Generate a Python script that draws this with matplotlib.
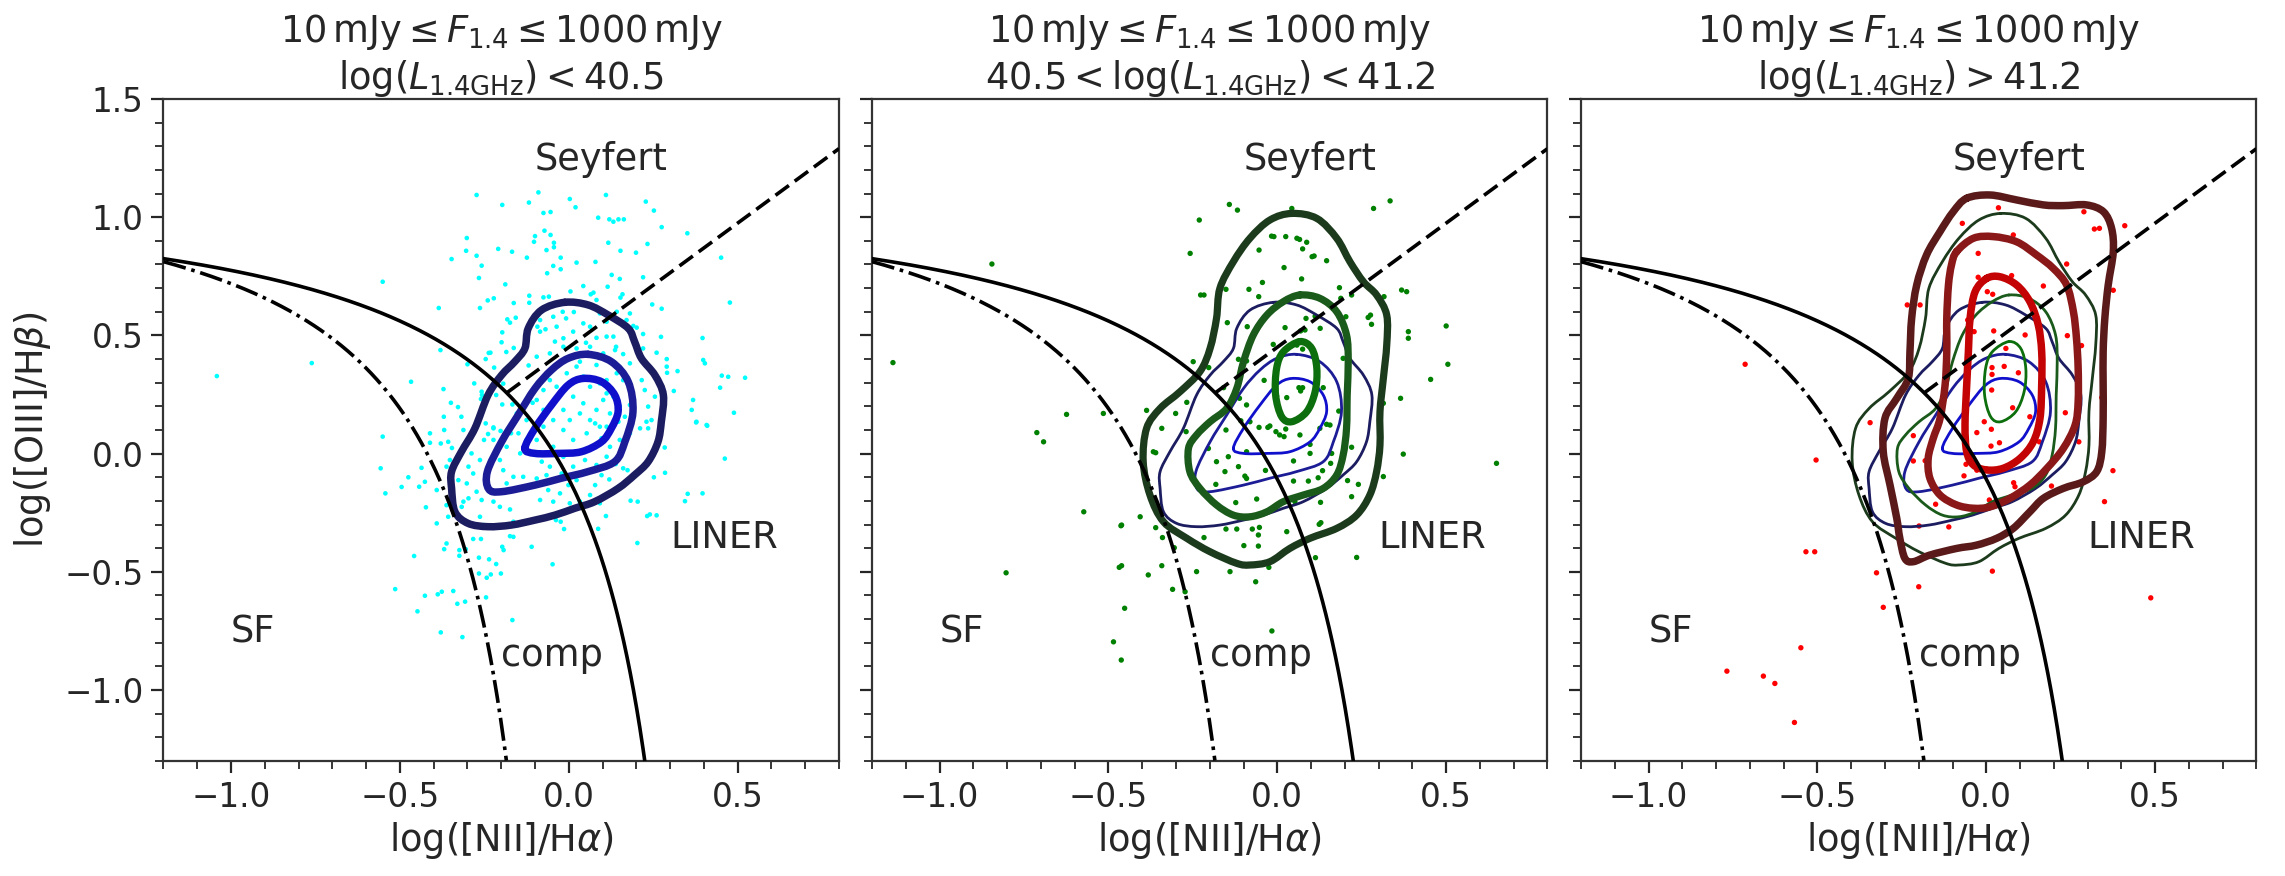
import numpy as np
import matplotlib
matplotlib.use("Agg")
import matplotlib.pyplot as plt
from matplotlib.path import Path
from matplotlib.patches import PathPatch

# ---------------- data ----------------
titles = [
    r"$10\,\mathrm{mJy} \leq F_{1.4} \leq 1000\,\mathrm{mJy}$" + "\n" + r"$\log(L_{1.4\mathrm{GHz}}) < 40.5$",
    r"$10\,\mathrm{mJy} \leq F_{1.4} \leq 1000\,\mathrm{mJy}$" + "\n" + r"$40.5 < \log(L_{1.4\mathrm{GHz}}) < 41.2$",
    r"$10\,\mathrm{mJy} \leq F_{1.4} \leq 1000\,\mathrm{mJy}$" + "\n" + r"$\log(L_{1.4\mathrm{GHz}}) > 41.2$",
]
region_labels = ["Seyfert", "SF", "comp", "LINER"]
region_x = [-0.1, -1.0, -0.2, 0.3]
region_y = [1.2, -0.8, -0.9, -0.4]

x_ticks = [-1.0, -0.5, 0.0, 0.5]
y_ticks = [-1.0, -0.5, 0.0, 0.5, 1.0, 1.5]

# cyan sample (log L < 40.5)
cyan_x = [-0.273,-0.197,-0.118,-0.302,-0.304,-0.273,-0.209,-0.168,-0.124,-0.347,-0.258,-0.266,-0.551,-0.188,-0.117,-0.117,-0.163,-0.240,-0.222,-0.263,-0.385,-0.182,-0.174,-0.157,-0.197,-0.199,-0.163,-0.237,-0.232,-0.185,-0.246,-0.300,-0.380,-0.761,-0.467,-0.221,-0.192,-0.119,-0.280,-0.194,-0.258,-0.257,-0.371,-0.349,-0.328,-0.370,-0.318,-0.197,-0.167,-0.107,-0.125,-0.154,-0.223,-0.246,-0.260,-0.215,-1.042,
          -0.090,0.003,0.110,0.020,-0.075,-0.054,0.228,0.252,0.087,0.120,0.132,0.147,0.163,0.275,0.351,-0.072,-0.054,-0.100,-0.103,-0.044,-0.044,-0.066,0.117,0.233,0.153,0.199,-0.024,0.023,0.079,0.451,-0.046,-0.024,-0.064,0.127,0.151,0.220,0.043,0.115,0.005,-0.075,-0.059,0.073,0.065,0.159,0.153,0.247,0.275,0.477,-0.018,0.015,-0.008,0.043,-0.093,-0.069,-0.036,-0.085,0.112,0.191,0.201,0.171,0.220,0.273,0.396,-0.016,-0.041,0.082,0.051,0.112,0.140,0.137,0.161,0.260,0.290,0.398,0.403,0.291,0.322,0.453,0.472,0.522,0.448,0.311,0.290,0.220,0.181,0.216,0.225,0.255,0.235,0.368,0.364,0.489,0.378,0.408,0.245,0.211,0.166,0.181,
          0.023,0.043,-0.006,0.063,0.092,0.112,0.013,0.043,0.082,0.102,0.132,0.033,0.063,0.003,0.122,0.092,-0.016,-0.036,-0.056,-0.075,-0.095,-0.075,-0.046,0.112,0.142,0.033,0.082,0.132,0.161,0.151,0.181,-0.095,-0.056,-0.016,0.023,0.063,0.102,0.132,0.013,0.063,0.092,-0.046,-0.085,0.063,0.082,0.142,0.023,0.181,
          -0.551,-0.557,-0.543,-0.475,-0.495,-0.443,-0.426,-0.423,-0.391,-0.369,-0.458,-0.514,-0.426,-0.388,-0.376,-0.342,-0.330,-0.307,-0.245,-0.448,-0.379,-0.315,-0.324,-0.305,-0.324,-0.266,-0.266,-0.236,-0.215,-0.231,-0.243,-0.201,-0.197,-0.193,-0.174,-0.164,-0.167,-0.260,-0.411,-0.369,-0.411,-0.379,-0.357,-0.346,-0.312,-0.251,-0.223,-0.239,-0.202,-0.171,-0.149,-0.436,-0.362,-0.352,-0.391,-0.362,-0.327,-0.302,-0.283,-0.273,-0.258,-0.312,-0.317,-0.297,-0.357,-0.263,-0.223,-0.204,-0.174,-0.184,-0.194,-0.164,-0.135,-0.144,-0.184,-0.204,-0.223,-0.263,-0.297,-0.288,-0.125,-0.253,-0.283,-0.362,-0.164,-0.140,
          0.377,0.410,0.462,0.284,0.285,0.252,0.352,0.396,0.344,0.183,0.204,0.232,0.260,0.240,0.110,0.087,-0.038,-0.024,-0.014,0.203,-0.048,-0.110,0.174,0.161,0.139,0.157,0.122,0.151,0.181,0.235,0.230,0.097,0.078,0.112,0.097,0.120,0.078,0.063,0.092,0.033,0.003,-0.046,-0.085,-0.061,-0.026,-0.001,0.023,-0.021,-0.066,-0.095,-0.056,0.013,0.048,0.082,-0.080,-0.016,-0.046,0.013,0.053,-0.016,-0.075,-0.095,0.112,0.078,0.147]
cyan_y = [1.094,1.052,1.062,0.912,0.858,0.837,0.866,0.854,0.829,0.823,0.795,0.743,0.727,0.716,0.668,0.638,0.637,0.648,0.657,0.616,0.616,0.568,0.554,0.575,0.513,0.471,0.447,0.426,0.427,0.430,0.400,0.378,0.438,0.383,0.304,0.364,0.340,0.373,0.297,0.296,0.262,0.248,0.273,0.215,0.197,0.156,0.156,0.208,0.208,0.215,0.142,0.170,0.111,0.128,0.231,0.248,0.328,
          1.105,1.077,1.094,1.042,1.018,1.022,1.066,1.028,0.998,0.991,0.981,0.991,0.991,0.958,0.932,0.943,0.925,0.920,0.896,0.892,0.873,0.861,0.892,0.887,0.858,0.850,0.829,0.808,0.811,0.829,0.794,0.780,0.763,0.756,0.739,0.746,0.709,0.706,0.686,0.661,0.664,0.681,0.674,0.674,0.660,0.631,0.613,0.639,0.600,0.599,0.572,0.551,0.537,0.526,0.537,0.516,0.558,0.540,0.533,0.565,0.506,0.494,0.489,0.488,0.474,0.490,0.469,0.495,0.452,0.438,0.421,0.427,0.400,0.396,0.382,0.342,0.349,0.330,0.325,0.321,0.279,0.265,0.368,0.445,0.382,0.311,0.269,0.241,0.199,0.227,0.185,0.173,0.135,0.121,0.142,0.107,0.156,0.206,
          0.368,0.326,0.340,0.283,0.297,0.255,0.241,0.213,0.185,0.227,0.241,0.170,0.142,0.142,0.170,0.114,0.185,0.283,0.311,0.269,0.227,0.185,0.142,0.311,0.340,0.389,0.375,0.389,0.311,0.199,0.283,0.410,0.424,0.452,0.445,0.452,0.424,0.495,0.516,0.537,0.593,0.579,0.565,0.622,0.650,0.600,0.643,0.593,
          0.072,-0.062,-0.168,-0.100,-0.141,-0.140,-0.119,-0.227,-0.295,-0.404,-0.433,-0.573,-0.601,-0.595,-0.584,-0.581,-0.635,-0.626,-0.608,-0.667,-0.756,-0.776,-0.432,-0.404,-0.408,-0.440,-0.507,-0.447,-0.467,-0.511,-0.525,-0.507,-0.394,-0.408,-0.349,-0.352,-0.704,-0.361,0.086,0.100,0.046,0.043,0.050,0.024,0.100,0.058,0.107,0.083,0.096,0.086,0.086,-0.060,-0.055,-0.027,-0.154,-0.218,-0.112,-0.126,-0.084,-0.161,-0.196,-0.203,-0.225,-0.189,-0.267,-0.267,-0.203,-0.225,-0.236,-0.126,-0.070,-0.098,-0.098,0.001,0.029,-0.027,0.058,-0.027,-0.055,0.001,0.058,-0.302,-0.361,-0.380,-0.288,-0.295,
          0.132,0.118,-0.021,0.026,-0.081,-0.100,-0.170,-0.168,-0.201,-0.199,-0.203,-0.264,-0.261,-0.257,-0.264,-0.318,-0.281,-0.288,-0.319,-0.378,-0.468,-0.394,-0.070,-0.062,-0.044,0.001,0.029,0.058,0.086,0.107,0.135,0.065,0.036,-0.013,-0.091,-0.109,-0.133,-0.175,-0.210,-0.203,-0.210,-0.203,-0.196,-0.154,-0.168,-0.133,-0.112,-0.084,-0.091,-0.105,-0.055,-0.055,-0.027,-0.048,-0.034,-0.013,0.029,0.058,0.086,0.100,0.114,0.058,0.114,0.128,0.135]

# green sample (40.5 < log L < 41.2)
green_x = [-0.142,-0.118,-0.231,0.043,0.285,0.334,-0.258,-0.054,-0.017,-0.010,0.025,0.058,0.066,0.087,0.075,0.103,0.109,0.146,0.020,0.072,-0.044,-0.084,-0.055,-0.227,-0.217,-0.152,0.184,0.188,0.220,0.316,0.368,0.383,0.203,0.269,0.279,0.276,0.112,0.085,0.082,0.023,0.069,0.127,-0.148,-0.089,-0.012,0.388,0.388,0.058,0.075,0.195,-0.091,-0.115,-0.249,-0.203,-0.159,-0.112,-0.091,-0.039,-0.002,0.064,0.075,0.069,0.028,0.136,0.182,0.146,0.156,0.365,0.314,-0.268,-0.387,-0.301,-0.270,-0.342,-0.152,-0.108,-0.081,-0.054,-0.028,-0.022,-0.004,0.007,0.020,0.025,0.067,0.097,0.097,0.126,0.161,0.220,-0.367,-0.360,-0.204,-0.180,-0.145,-0.091,-0.115,-0.155,-0.091,-0.096,-0.035,0.048,0.048,0.092,0.121,0.134,0.158,0.208,0.240,0.314,0.373,-0.182,-0.123,-0.061,0.052,0.128,0.220,-0.406,-0.461,-0.360,-0.340,-0.217,-0.152,-0.120,-0.074,-0.053,-0.056,0.028,0.124,0.129,-0.099,-0.056,-0.305,-0.468,-0.461,-0.382,-0.342,-0.239,-0.140,-0.064,-0.025,0.113,0.235,-0.310,-0.273,
           -1.138,-0.845,0.500,0.505,0.454,-0.624,-0.712,-0.515,-0.692,-0.573,-0.463,-0.803,-0.452,-0.485,-0.462,-0.016,0.649]
green_y = [1.054,1.030,0.988,1.037,1.037,1.069,0.847,0.861,0.920,0.918,0.918,0.911,0.906,0.894,0.866,0.833,0.836,0.816,0.787,0.739,0.724,0.695,0.664,0.671,0.671,0.695,0.702,0.657,0.671,0.664,0.692,0.685,0.579,0.576,0.547,0.586,0.581,0.572,0.523,0.533,0.519,0.530,0.554,0.537,0.462,0.516,0.488,0.459,0.442,0.403,0.392,0.399,0.389,0.364,0.279,0.234,0.206,0.310,0.244,0.279,0.279,0.265,0.237,0.279,0.180,0.124,0.121,0.234,0.213,0.217,0.183,0.170,0.093,0.107,0.100,0.139,0.135,0.111,0.111,0.117,0.093,0.079,0.072,0.104,0.079,0.039,0.001,0.107,0.001,0.027,0.008,0.004,0.022,-0.034,-0.013,0.008,-0.055,-0.076,-0.105,-0.095,-0.071,-0.031,-0.116,-0.116,-0.102,-0.072,-0.041,-0.114,-0.130,-0.097,-0.002,-0.130,-0.207,-0.192,-0.203,-0.206,-0.182,-0.267,-0.302,-0.313,-0.355,-0.355,-0.319,-0.319,-0.319,-0.312,-0.344,-0.330,-0.299,-0.292,-0.389,-0.391,-0.398,-0.481,-0.474,-0.513,-0.474,-0.499,-0.499,-0.542,-0.481,-0.440,-0.439,-0.574,-0.584,
           0.385,0.802,0.540,0.378,0.314,0.166,0.089,0.170,0.050,-0.246,-0.305,-0.504,-0.654,-0.796,-0.873,-0.750,-0.041]

# red sample (log L > 41.2)
red_x = [0.036,0.289,-0.071,0.320,0.335,0.410,0.080,-0.024,0.238,0.003,-0.024,0.075,0.019,0.169,-0.234,-0.196,0.376,-0.055,-0.036,0.022,0.115,0.240,0.282,0.058,0.017,0.053,0.095,0.017,0.016,-0.117,0.342,0.078,0.234,-0.006,-0.028,0.015,0.014,0.039,0.157,0.274,-0.344,-0.216,-0.216,-0.181,-0.060,-0.066,-0.028,0.001,0.081,0.085,0.193,0.375,0.350,0.009,-0.150,-0.111,-0.199,0.018,-0.325,-0.200,0.129,
         -0.504,-0.534,-0.508,-0.305,0.487,-0.549,-0.768,-0.660,-0.626,-0.568,-0.714]
red_y = [1.040,1.023,0.974,0.950,0.953,0.964,0.925,0.847,0.802,0.685,0.746,0.753,0.674,0.709,0.629,0.629,0.691,0.565,0.516,0.519,0.502,0.499,0.457,0.445,0.364,0.369,0.342,0.335,0.269,0.364,0.237,0.194,0.173,0.135,0.089,0.103,0.032,0.046,0.050,0.050,0.131,0.076,-0.031,-0.030,-0.045,-0.094,-0.070,-0.065,-0.123,-0.140,-0.137,-0.072,-0.203,-0.196,-0.214,-0.310,-0.306,-0.497,-0.504,-0.563,0.156,
         -0.027,-0.415,-0.415,-0.650,-0.610,-0.821,-0.920,-0.941,-0.972,-1.137,0.378]

# density contours (outer / middle / inner) for each sample
blue_outer_x = [-0.012,0.057,0.117,0.176,0.195,0.215,0.255,0.280,0.274,0.264,0.235,0.195,0.146,0.077,0.018,-0.041,-0.100,-0.170,-0.239,-0.298,-0.337,-0.347,-0.347,-0.318,-0.278,-0.239,-0.199,-0.160,-0.130,-0.120,-0.081]
blue_outer_y = [0.640,0.629,0.586,0.530,0.473,0.403,0.332,0.248,0.135,0.050,-0.034,-0.090,-0.147,-0.203,-0.231,-0.260,-0.281,-0.302,-0.309,-0.295,-0.246,-0.147,-0.076,0.008,0.107,0.248,0.332,0.389,0.445,0.530,0.607]
blue_mid_x = [0.057,0.126,0.176,0.190,0.166,0.136,0.057,-0.022,-0.100,-0.199,-0.237,-0.241,-0.199,-0.150,-0.100,-0.051,-0.002]
blue_mid_y = [0.420,0.389,0.304,0.177,0.050,-0.034,-0.076,-0.104,-0.133,-0.161,-0.150,-0.076,0.050,0.163,0.276,0.354,0.403]
blue_in_x = [-0.130,-0.100,-0.051,-0.002,0.042,0.097,0.136,0.146,0.126,0.097,0.037,-0.031,-0.100]
blue_in_y = [0.022,0.107,0.206,0.290,0.318,0.304,0.248,0.177,0.107,0.050,0.008,0.001,0.001]

green_outer_x = [0.043,0.117,0.176,0.215,0.255,0.294,0.324,0.324,0.314,0.304,0.304,0.294,0.274,0.235,0.176,0.097,0.037,-0.022,-0.081,-0.120,-0.199,-0.268,-0.337,-0.377,-0.397,-0.387,-0.347,-0.288,-0.229,-0.199,-0.180,-0.170,-0.130,-0.081,-0.022]
green_outer_y = [1.016,0.995,0.911,0.812,0.727,0.671,0.586,0.459,0.318,0.177,0.036,-0.076,-0.175,-0.260,-0.316,-0.358,-0.401,-0.457,-0.471,-0.464,-0.415,-0.358,-0.288,-0.175,-0.034,0.107,0.191,0.262,0.347,0.445,0.572,0.699,0.812,0.911,0.988]
green_mid_x = [0.067,0.126,0.176,0.205,0.210,0.207,0.205,0.195,0.176,0.136,0.077,0.018,-0.031,-0.081,-0.130,-0.180,-0.229,-0.259,-0.263,-0.239,-0.199,-0.150,-0.120,-0.100,-0.071,-0.031,0.018]
green_mid_y = [0.671,0.657,0.600,0.502,0.389,0.248,0.107,-0.006,-0.090,-0.147,-0.175,-0.203,-0.246,-0.267,-0.260,-0.217,-0.147,-0.076,0.022,0.079,0.135,0.191,0.276,0.389,0.502,0.586,0.643]
green_in_x = [0.067,0.102,0.117,0.112,0.087,0.043,0.013,-0.005,-0.002,0.018]
green_in_y = [0.474,0.445,0.361,0.262,0.177,0.135,0.156,0.248,0.361,0.431]

red_outer_x = [-0.058,0.011,0.090,0.169,0.228,0.297,0.347,0.371,0.376,0.361,0.351,0.346,0.346,0.346,0.342,0.327,0.287,0.228,0.169,0.129,0.080,0.031,-0.029,-0.088,-0.167,-0.216,-0.241,-0.256,-0.265,-0.285,-0.305,-0.300,-0.265,-0.231,-0.226,-0.221,-0.206,-0.177,-0.137,-0.098]
red_outer_y = [1.080,1.094,1.073,1.052,1.049,1.052,1.023,0.953,0.854,0.713,0.572,0.431,0.290,0.149,0.008,-0.076,-0.119,-0.147,-0.189,-0.246,-0.316,-0.358,-0.387,-0.401,-0.429,-0.457,-0.443,-0.358,-0.274,-0.133,0.008,0.149,0.234,0.318,0.431,0.572,0.713,0.840,0.939,1.023]
red_mid_x = [-0.088,-0.038,0.021,0.090,0.149,0.198,0.238,0.258,0.267,0.272,0.272,0.263,0.228,0.179,0.129,0.070,0.011,-0.038,-0.088,-0.137,-0.167,-0.172,-0.157,-0.137,-0.122,-0.117,-0.117,-0.112,-0.103]
red_mid_y = [0.854,0.911,0.918,0.896,0.840,0.784,0.713,0.600,0.488,0.361,0.220,0.121,0.022,-0.063,-0.133,-0.189,-0.225,-0.231,-0.217,-0.175,-0.104,-0.020,0.065,0.149,0.290,0.431,0.572,0.713,0.798]
red_in_x = [0.001,0.041,0.090,0.129,0.154,0.164,0.164,0.159,0.139,0.100,0.050,0.001,-0.038,-0.058,-0.063,-0.058,-0.053,-0.048,-0.033]
red_in_y = [0.741,0.748,0.713,0.643,0.544,0.431,0.290,0.149,0.050,-0.020,-0.062,-0.069,-0.048,0.008,0.121,0.290,0.431,0.572,0.685]

# ---------------- style ----------------
TXT = "#262626"
plt.rcParams.update({
    "font.family": ["DejaVu Sans"],
    "mathtext.fontset": "dejavusans",
    "text.color": TXT,
    "axes.labelcolor": TXT,
    "axes.edgecolor": "#333333",
    "xtick.color": TXT,
    "ytick.color": TXT,
    "axes.linewidth": 1.6,
})

blue_cols = ["#1c1c60", "#1c1c96", "#1010cc"]
green_cols = ["#1c3a1c", "#1a5a1a", "#0c6e0c"]
red_cols = ["#5a1a1a", "#8a1818", "#c40404"]

blue_sets = [(blue_outer_x, blue_outer_y), (blue_mid_x, blue_mid_y), (blue_in_x, blue_in_y)]
green_sets = [(green_outer_x, green_outer_y), (green_mid_x, green_mid_y), (green_in_x, green_in_y)]
red_sets = [(red_outer_x, red_outer_y), (red_mid_x, red_mid_y), (red_in_x, red_in_y)]


def smooth_closed_path(xs, ys):
    """Closed Bezier path passing through the traced vertices (Catmull-Rom handles)."""
    p = np.column_stack([xs, ys]).astype(float)
    n = len(p)
    verts = [p[0]]
    codes = [Path.MOVETO]
    for i in range(n):
        p0, p1, p2, p3 = p[(i - 1) % n], p[i], p[(i + 1) % n], p[(i + 2) % n]
        c1 = p1 + (p2 - p0) / 6.0
        c2 = p2 - (p3 - p1) / 6.0
        verts += [c1, c2, p2]
        codes += [Path.CURVE4] * 3
    return Path(np.array(verts), codes)


def draw_contours(ax, sets, cols, lw, z):
    for (xs, ys), c in zip(sets, cols):
        patch = PathPatch(smooth_closed_path(xs, ys), facecolor="none", edgecolor=c,
                          lw=lw, joinstyle="round", capstyle="round", zorder=z)
        ax.add_patch(patch)


def draw_lines(ax):
    # Kauffmann et al. (2003)
    xk = np.linspace(-1.2, -0.1848, 300)
    ax.plot(xk, 0.61 / (xk - 0.05) + 1.3, color="k", lw=2.6, ls="-.", zorder=6)
    # Kewley et al. (2001)
    xw = np.linspace(-1.2, 0.2247, 300)
    ax.plot(xw, 0.61 / (xw - 0.47) + 1.19, color="k", lw=2.6, ls="-", zorder=6)
    # Seyfert / LINER division (Schawinski et al. 2007)
    xs = np.linspace(-0.184, 0.8, 50)
    ax.plot(xs, 1.05 * xs + 0.45, color="k", lw=2.6, ls=(0, (4.6, 2.0)), zorder=6)


fig = plt.figure(figsize=(22.85, 8.76), dpi=100)
lefts = [0.07155, 0.38162, 0.69190]
axes = [fig.add_axes([l, 0.13128, 0.29562, 0.75571]) for l in lefts]

samples = [(cyan_x, cyan_y, "#00ffff", 11), (green_x, green_y, "#008000", 15), (red_x, red_y, "#ff0000", 15)]

for i, ax in enumerate(axes):
    sx, sy, sc, ss = samples[i]
    ax.scatter(sx, sy, s=ss, color=sc, edgecolors="none", zorder=2)
    if i == 0:
        draw_contours(ax, blue_sets, blue_cols, 5.4, 4)
    elif i == 1:
        draw_contours(ax, blue_sets, blue_cols, 2.0, 3)
        draw_contours(ax, green_sets, green_cols, 5.2, 4)
    else:
        draw_contours(ax, blue_sets, blue_cols, 2.0, 3)
        draw_contours(ax, green_sets, green_cols, 2.0, 3)
        draw_contours(ax, red_sets, red_cols, 5.4, 4)
    draw_lines(ax)
    for lab, tx, ty in zip(region_labels, region_x, region_y):
        ax.text(tx, ty, lab, fontsize=26.5, ha="left", va="baseline", color=TXT, zorder=7)

    ax.set_xlim(-1.2, 0.8)
    ax.set_ylim(-1.3, 1.5)
    ax.set_xticks(x_ticks)
    ax.set_yticks(y_ticks)
    ax.set_xticks(np.arange(-1.2, 0.81, 0.1), minor=True)
    ax.set_yticks(np.arange(-1.3, 1.51, 0.1), minor=True)
    ax.tick_params(which="major", direction="out", length=8.5, width=1.6, labelsize=23.5, pad=6)
    ax.tick_params(which="minor", direction="out", length=5.5, width=1.3)
    ax.set_xlabel(r"log([NII]/H$\alpha$)", fontsize=26.5, labelpad=4)
    if i == 0:
        ax.set_ylabel(r"log([OIII]/H$\beta$)", fontsize=26.5, labelpad=8)
    else:
        ax.tick_params(axis="y", labelleft=False)
    ax.set_title(titles[i], fontsize=26.5, pad=5, linespacing=1.2)

fig.savefig("out.png", dpi=100)
